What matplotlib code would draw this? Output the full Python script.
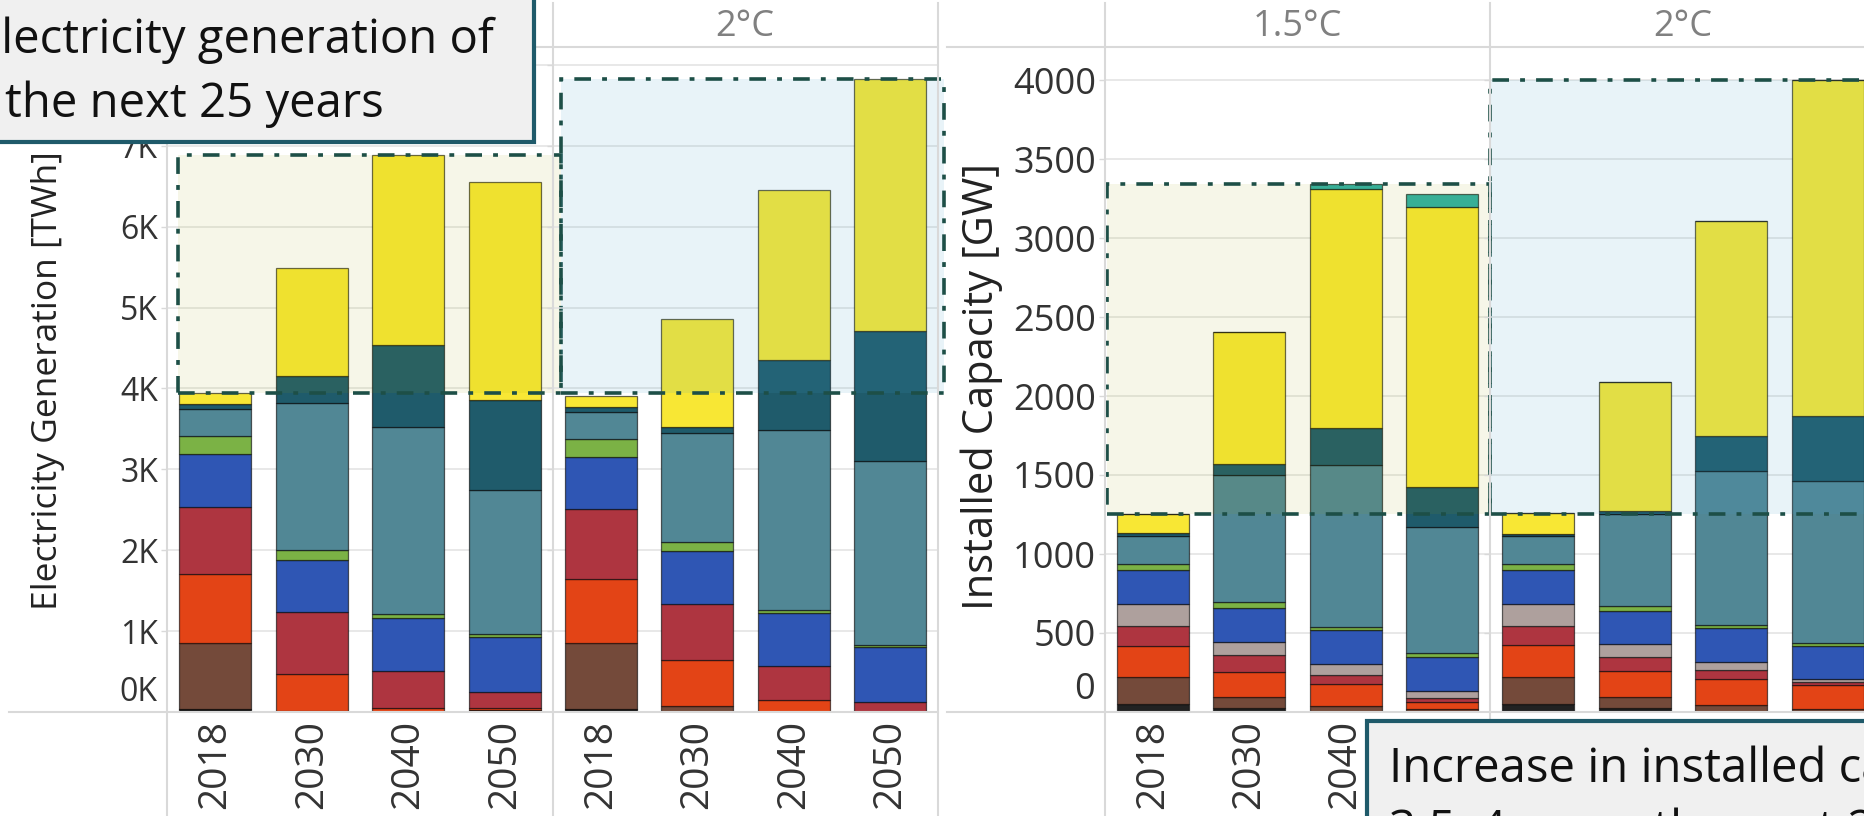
import matplotlib
matplotlib.use("Agg")
import matplotlib.pyplot as plt
import numpy as np
from matplotlib.font_manager import FontProperties
from matplotlib.lines import Line2D
from matplotlib.patches import Rectangle
from matplotlib.ticker import FuncFormatter

plt.rcParams["font.family"] = ["Open Sans", "DejaVu Sans"]
plt.rcParams["lines.scale_dashes"] = False

years = ["2018", "2030", "2040", "2050"]
scenarios = ["1.5°C", "2°C"]

# electricity generation [TWh], rows follow gen_techs (bottom -> top), columns follow years
gen_techs = ["Oil", "Hydrogen", "Coal", "Gas", "Nuclear", "Hydro", "Biomass",
             "Wind onshore", "Wind offshore", "Solar PV"]
gen_15 = [
    [40, 15, 0, 0],
    [0, 0, 0, 30],
    [812, 0, 0, 0],
    [848, 458, 54, 20],
    [838, 764, 448, 196],
    [649, 640, 661, 681],
    [227, 124, 54, 42],
    [331, 1818, 2312, 1776],
    [65, 330, 1013, 1106],
    [137, 1343, 2341, 2702],
]
gen_20 = [
    [40, 0, 0, 0],
    [0, 0, 0, 0],
    [812, 70, 0, 0],
    [798, 568, 151, 0],
    [855, 694, 417, 121],
    [652, 657, 656, 682],
    [216, 115, 42, 21],
    [334, 1343, 2222, 2280],
    [62, 82, 868, 1611],
    [140, 1331, 2098, 3110],
]

# installed capacity [GW]
cap_techs = ["Oil", "Coal", "Gas", "Nuclear", "Pumped hydro", "Hydro", "Biomass",
             "Wind onshore", "Wind offshore", "Solar PV", "Storage"]
cap_15 = [
    [53, 25, 0, 0],
    [167, 69, 36, 21],
    [196, 162, 142, 41],
    [127, 102, 59, 28],
    [142, 88, 68, 46],
    [215, 213, 211, 211],
    [38, 36, 21, 25],
    [173, 802, 1028, 802],
    [21, 74, 234, 249],
    [122, 837, 1512, 1776],
    [0, 0, 32, 81],
]
cap_20 = [
    [53, 25, 0, 0],
    [167, 69, 42, 20],
    [201, 164, 164, 148],
    [122, 89, 57, 21],
    [142, 85, 52, 21],
    [215, 210, 218, 206],
    [38, 32, 19, 22],
    [173, 580, 976, 1027],
    [17, 17, 216, 407],
    [130, 816, 1362, 2125],
    [0, 0, 0, 0],
]

tech_colors = {
    "Oil": "#222222", "Hydrogen": "#2bbccf", "Coal": "#744a3a", "Gas": "#e34416",
    "Nuclear": "#ae3540", "Pumped hydro": "#aea09d", "Hydro": "#2f56b4",
    "Biomass": "#7bb245", "Wind onshore": "#518795", "Wind offshore": "#1f5b6b",
    "Solar PV": "#f8e734", "Storage": "#2fb0a6",
}

W, H = 1865, 816
fig = plt.figure(figsize=(W / 100, H / 100), dpi=100)
fig.patch.set_facecolor("white")

GRID = "#e2e2e2"
RULE = "#d9d9d9"
DASH = (0, (12, 8, 3.5, 8))
EDGE = "#1d4f47"
TOP, BASE = 47, 712


def px(x, y):
    return x / W, 1 - y / H


def add_panel(x0, x1, ymax):
    ax = fig.add_axes([x0 / W, 1 - BASE / H, (x1 - x0) / W, (BASE - TOP) / H])
    ax.set_facecolor("none")
    ax.set_xlim(-0.5, 3.5)
    ax.set_ylim(0, ymax)
    for s in ax.spines.values():
        s.set_visible(False)
    return ax


def stack(ax, techs, table):
    x = np.arange(len(years))
    bottom = np.zeros(len(years))
    for name, row in zip(techs, table):
        vals = np.array(row, dtype=float)
        ax.bar(x, vals, bottom=bottom, width=0.75, color=tech_colors[name],
               edgecolor=(0, 0, 0, 0.6), linewidth=0.9, zorder=3)
        bottom += vals
    ax.set_xticks(x)
    ax.set_xticklabels(years, rotation=90, fontsize=28, color="#333333")
    ax.tick_params(axis="x", length=0, pad=6)
    return bottom


def style_y(ax, ticks, fmt, size, show, lift):
    ax.set_yticks(ticks)
    ax.yaxis.grid(True, color=GRID, linewidth=1.1, zorder=0)
    ax.set_axisbelow(True)
    ax.tick_params(axis="y", length=4.5, width=1, color=RULE, pad=2,
                   labelsize=size, labelcolor="#333333", labelleft=show)
    ax.yaxis.set_major_formatter(FuncFormatter(fmt))
    if show:
        # zero label sits above the baseline
        ax.annotate(fmt(0, None), xy=(0, 0), xycoords=("axes fraction", "data"),
                    xytext=(-10, lift), textcoords="offset pixels",
                    ha="right", va="bottom", fontsize=size, color="#333333")


def shade(ax, x0, x1, y0, y1, rgb, alpha):
    ax.add_patch(Rectangle((x0, y0), x1 - x0, y1 - y0, facecolor=(*rgb, alpha),
                           edgecolor=EDGE, linewidth=2.6, linestyle=DASH,
                           clip_on=False, zorder=6))


YELLOW = (0.61, 0.65, 0.02)
BLUE = (0.27, 0.62, 0.78)

# generation chart
gen_max = (BASE - TOP) / 80.9 * 1000
g1 = add_panel(167, 553, gen_max)
g2 = add_panel(553, 938, gen_max)
t_g15 = stack(g1, gen_techs, gen_15)
t_g20 = stack(g2, gen_techs, gen_20)
k_fmt = lambda v, _: f"{v / 1000:.0f}K"
style_y(g1, np.arange(1000, 8001, 1000), k_fmt, 23, True, 3)
style_y(g2, np.arange(1000, 8001, 1000), k_fmt, 23, False, 3)
shade(g1, -0.39, 3.58, t_g15[0], t_g15.max(), YELLOW, 0.09)
shade(g2, -0.42, 3.56, t_g15[0], t_g20.max(), BLUE, 0.12)

# capacity chart
cap_max = (BASE - TOP) / 0.158
c1 = add_panel(1105, 1490, cap_max)
c2 = add_panel(1490, 1876, cap_max)
t_c15 = stack(c1, cap_techs, cap_15)
t_c20 = stack(c2, cap_techs, cap_20)
n_fmt = lambda v, _: f"{v:.0f}"
style_y(c1, np.arange(500, 4001, 500), n_fmt, 26, True, 4)
style_y(c2, np.arange(500, 4001, 500), n_fmt, 26, False, 4)
shade(c1, -0.48, 3.5, t_c15[0], t_c15.max(), YELLOW, 0.09)
shade(c2, -0.5, 3.7, t_c15[0], t_c20.max(), BLUE, 0.12)

fig.text(*px(48, 381), "Electricity Generation [TWh]", rotation=90,
         ha="center", va="center", fontsize=25.5, color="#222222")
fig.text(*px(982, 387), "Installed Capacity [GW]", rotation=90,
         ha="center", va="center", fontsize=30, color="#222222")

# facet headers and panel rules
for cx, label in [(360, scenarios[0]), (745, scenarios[1]),
                  (1297, scenarios[0]), (1683, scenarios[1])]:
    fig.text(*px(cx, 27), label, ha="center", va="center", fontsize=26, color="#808080")

rules = [((0, 938), (TOP, TOP)), ((947, W), (TOP, TOP)),
         ((9, 938), (BASE, BASE)), ((947, W), (BASE, BASE))]
for xv in (167, 553, 938, 1105, 1490):
    rules.append(((xv, xv), (3, H)))
for xs, ys in rules:
    fig.add_artist(Line2D([x / W for x in xs], [1 - y / H for y in ys],
                          color=RULE, linewidth=1.5, zorder=1))

# callout boxes
for (x0, y0, x1, y1) in [(-20, -20, 534, 142), (1367, 721, 1900, 860)]:
    fig.add_artist(Rectangle(px(x0, y1), (x1 - x0) / W, (y1 - y0) / H,
                             transform=fig.transFigure, facecolor="#f0f0f0",
                             edgecolor="#1f5a6a", linewidth=3, zorder=20))

box_text = dict(fontsize=34, color="#111111", zorder=21, va="baseline")
# first line runs past the left edge of the box; start it so the capital falls outside
renderer = fig.canvas.get_renderer()
cap_w = renderer.get_text_width_height_descent(
    "E", FontProperties(family=["Open Sans", "DejaVu Sans"], size=34), ismath=False)[0]
fig.text(*px(1 - cap_w, 53), "Electricity generation of", ha="left", **box_text)
fig.text(*px(5, 117), "the next 25 years", ha="left", **box_text)
box_text["fontsize"] = 34
fig.text(*px(1389, 782), "Increase in installed capacity of", ha="left", **box_text)
fig.text(*px(1389, 844), "3.5–4x over the next 25 years", ha="left", **box_text)

fig.savefig("out.png", dpi=100)
